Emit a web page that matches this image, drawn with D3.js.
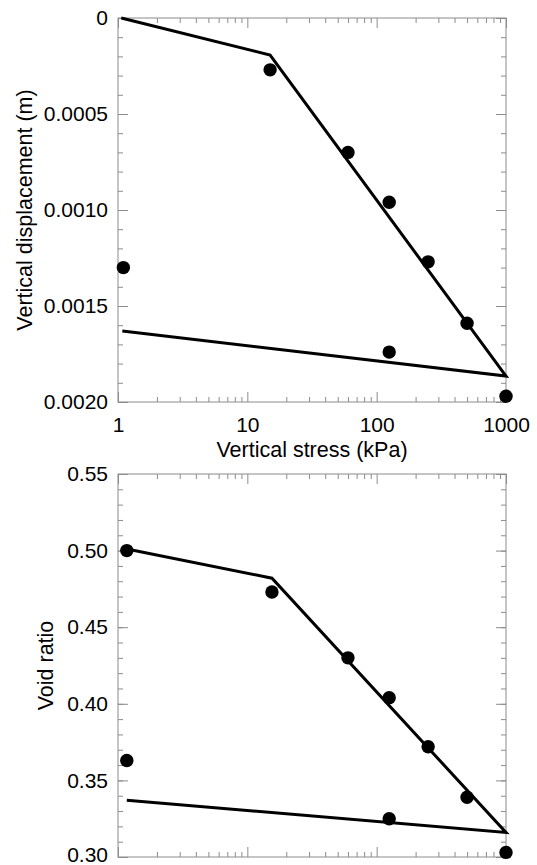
<!DOCTYPE html>
<html>
<head>
<meta charset="utf-8">
<script src="https://cdn.jsdelivr.net/npm/d3@7"></script>
<style>
  body { margin: 0; background: #fff; }
  text { font-family: 'Liberation Sans', Arial, Helvetica, sans-serif; }
</style>
</head>
<body>
<div id="chart"></div>
<script>
const W = 537
const H = 865

// top panel: vertical displacement vs stress
const topStress = [15, 60, 125, 250, 500, 1000, 125, 1.1]
const topDisp = [0.00027, 0.0007, 0.00096, 0.00127, 0.00159, 0.00197, 0.00174, 0.0013]
const topLineStress = [1.06, 15, 1000, 1.08]
const topLineDisp = [0, 0.000193, 0.001865, 0.00163]
const topYTicks = [0, 0.0005, 0.001, 0.0015, 0.002]
const topYLabels = ['0', '0.0005', '0.0010', '0.0015', '0.0020']

// bottom panel: void ratio vs stress
const botStress = [1.17, 15.5, 60, 125, 250, 500, 1000, 125, 1.17]
const botVoid = [0.5, 0.473, 0.43, 0.404, 0.372, 0.339, 0.303, 0.325, 0.363]
const botLineStress = [1.17, 15.5, 1000, 1.17]
const botLineVoid = [0.501, 0.482, 0.316, 0.337]
const botYTicks = [0.3, 0.35, 0.4, 0.45, 0.5, 0.55]
const botYLabels = ['0.30', '0.35', '0.40', '0.45', '0.50', '0.55']

const xTicks = [1, 10, 100, 1000]
const xLabels = ['1', '10', '100', '1000']

const LEFT = 118
const RIGHT = 506
const MAJOR = 10
const MINOR = 5
const FRAME = '#8c8c8c'
const TICK_FONT = 21
const TITLE_FONT = 21.5

const xMinor = d3.range(0, 3).flatMap((k) => d3.range(2, 10).map((m) => m * 10 ** k))

const svg = d3.select('#chart').append('svg').attr('width', W).attr('height', H)
svg.append('rect').attr('width', W).attr('height', H).attr('fill', '#ffffff')

const x = d3.scaleLog().domain([1, 1000]).range([LEFT, RIGHT])

const styleAxis = (g) => {
  g.select('.domain').remove()
  g.selectAll('line').attr('stroke', FRAME).attr('stroke-width', 1)
  g.selectAll('text').attr('font-size', TICK_FONT).attr('fill', '#000')
}

const drawPanel = (opts) => {
  const { top, bottom, yDomain, yTicks, yLabels, yMinorStep, showX, yTitle, yTitleX } = opts
  const y = d3.scaleLinear().domain(yDomain).range([top, bottom])
  const yMinor = d3.range(yDomain[0], yDomain[1] + 1e-9, yMinorStep)
  const g = svg.append('g')

  // ticks on all four sides, pointing in
  g.append('g').attr('transform', `translate(0,${bottom})`)
    .call(d3.axisBottom(x).tickValues(xMinor).tickSize(-MINOR).tickFormat(''))
    .call(styleAxis)
  g.append('g').attr('transform', `translate(0,${bottom})`)
    .call(d3.axisBottom(x).tickValues(xTicks).tickSize(-MAJOR).tickPadding(15)
      .tickFormat((d, i) => (showX ? xLabels[i] : '')))
    .call(styleAxis)
  g.append('g').attr('transform', `translate(0,${top})`)
    .call(d3.axisTop(x).tickValues(xMinor).tickSize(-MINOR).tickFormat(''))
    .call(styleAxis)
  g.append('g').attr('transform', `translate(0,${top})`)
    .call(d3.axisTop(x).tickValues(xTicks).tickSize(-MAJOR).tickFormat(''))
    .call(styleAxis)

  g.append('g').attr('transform', `translate(${LEFT},0)`)
    .call(d3.axisLeft(y).tickValues(yMinor).tickSize(-MINOR).tickFormat(''))
    .call(styleAxis)
  const yAxis = g.append('g').attr('transform', `translate(${LEFT},0)`)
    .call(d3.axisLeft(y).tickValues(yTicks).tickSize(-MAJOR).tickPadding(10)
      .tickFormat((d, i) => yLabels[i]))
    .call(styleAxis)
  // keep a label sitting on the page edge inside the picture
  yAxis.selectAll('text').filter((d) => y(d) > H - 12).attr('dy', '0.22em')

  g.append('g').attr('transform', `translate(${RIGHT},0)`)
    .call(d3.axisRight(y).tickValues(yMinor).tickSize(-MINOR).tickFormat(''))
    .call(styleAxis)
  g.append('g').attr('transform', `translate(${RIGHT},0)`)
    .call(d3.axisRight(y).tickValues(yTicks).tickSize(-MAJOR).tickFormat(''))
    .call(styleAxis)

  g.append('rect')
    .attr('x', LEFT).attr('y', top)
    .attr('width', RIGHT - LEFT).attr('height', bottom - top)
    .attr('fill', 'none').attr('stroke', FRAME).attr('stroke-width', 1)

  const line = d3.line().x((d) => x(d[0])).y((d) => y(d[1]))
  g.append('path')
    .datum(d3.zip(opts.lineX, opts.lineY))
    .attr('d', line)
    .attr('fill', 'none')
    .attr('stroke', '#000')
    .attr('stroke-width', 3)
    .attr('stroke-linejoin', 'miter')

  g.selectAll('circle.pt')
    .data(d3.zip(opts.ptX, opts.ptY))
    .join('circle')
    .attr('class', 'pt')
    .attr('cx', (d) => x(d[0]))
    .attr('cy', (d) => y(d[1]))
    .attr('r', 6.7)
    .attr('fill', '#000')

  g.append('text')
    .attr('transform', `translate(${yTitleX},${(top + bottom) / 2}) rotate(-90)`)
    .attr('text-anchor', 'middle')
    .attr('font-size', TITLE_FONT)
    .text(yTitle)
}

drawPanel({
  top: 18, bottom: 402,
  yDomain: [0, 0.002], yTicks: topYTicks, yLabels: topYLabels, yMinorStep: 0.0001,
  showX: true,
  yTitle: 'Vertical displacement (m)', yTitleX: 32,
  lineX: topLineStress, lineY: topLineDisp,
  ptX: topStress, ptY: topDisp,
})

drawPanel({
  top: 474, bottom: 857,
  yDomain: [0.55, 0.3], yTicks: botYTicks, yLabels: botYLabels, yMinorStep: -0.01,
  showX: false,
  yTitle: 'Void ratio', yTitleX: 53,
  lineX: botLineStress, lineY: botLineVoid,
  ptX: botStress, ptY: botVoid,
})

svg.append('text')
  .attr('x', (LEFT + RIGHT) / 2)
  .attr('y', 457)
  .attr('text-anchor', 'middle')
  .attr('font-size', TITLE_FONT)
  .text('Vertical stress (kPa)')
</script>
</body>
</html>
